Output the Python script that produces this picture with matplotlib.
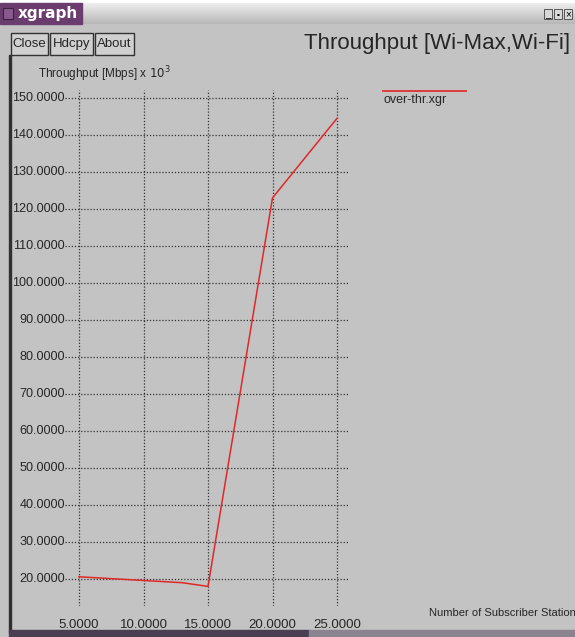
import numpy as np
import matplotlib.pyplot as plt
from matplotlib.patches import Rectangle

plt.rcParams['font.family'] = ['Liberation Sans', 'DejaVu Sans']

# throughput samples (Mbps x 10^3) vs number of subscriber stations
stations = [5, 10, 13, 15, 20, 25]
throughput = [20.6, 19.6, 19.0, 18.0, 123.0, 144.5]

x_ticks = [5, 10, 15, 20, 25]
y_ticks = [20, 30, 40, 50, 60, 70, 80, 90, 100, 110, 120, 130, 140, 150]

W, H = 575, 637
BG = '#c3c3c3'
TXT = '#262626'

fig = plt.figure(figsize=(W / 100, H / 100), dpi=100)
fig.patch.set_facecolor('white')

# window chrome drawn in pixel space
ui = fig.add_axes([0, 0, 1, 1])
ui.set_xlim(0, W)
ui.set_ylim(H, 0)
ui.axis('off')

ui.add_patch(Rectangle((0, 22), W, H - 22, color=BG, zorder=0))
# title bar: purple tab on the left, grey gradient for the rest
grad = np.linspace(0.93, 0.72, 32).reshape(-1, 1)
ui.imshow(grad, cmap='gray', vmin=0, vmax=1, extent=(0, W, 24, 3),
          aspect='auto', zorder=1)
ui.add_patch(Rectangle((0, 3), 82, 21, color='#6a3d6e', zorder=2))
ui.add_patch(Rectangle((3, 8), 10, 11, facecolor='#8a5a8e',
                       edgecolor='#3d2240', lw=0.8, zorder=3))
ui.text(18, 13.5, 'xgraph', color='white', fontsize=11, fontweight='bold',
        family='DejaVu Sans', va='center', ha='left', zorder=4)
for bx in (548, 558, 568):
    ui.add_patch(Rectangle((bx - 4, 9), 8, 10, facecolor='#d8d8d8',
                           edgecolor='#555555', lw=0.7, zorder=3))
ui.text(548, 14.5, '_', fontsize=7, ha='center', va='center', zorder=4)
ui.text(558, 14.5, '▪', fontsize=6, ha='center', va='center', zorder=4)
ui.text(568, 14.5, '×', fontsize=7, ha='center', va='center', zorder=4)

# buttons
for label, x0, x1 in [('Close', 11, 48), ('Hdcpy', 50, 93), ('About', 95, 134)]:
    ui.add_patch(Rectangle((x0, 33), x1 - x0, 22, facecolor='#d0d0d0',
                           edgecolor='#333333', lw=1.0, zorder=3))
    ui.text((x0 + x1) / 2, 44, label, fontsize=9.5, ha='center',
            va='center', color=TXT, zorder=4)

# window border
ui.add_patch(Rectangle((9, 55), 2, 577, color='#303030', zorder=3))
ui.add_patch(Rectangle((9, 630), 300, 7, color='#4a3e52', zorder=3))
ui.add_patch(Rectangle((309, 630), W - 309, 7, color='#8a8490', zorder=3))

ui.text(570, 44, 'Throughput [Wi-Max,Wi-Fi]', fontsize=16, ha='right',
        va='center', color=TXT, zorder=4)
ui.text(38, 74, r'Throughput [Mbps] x $10^3$', fontsize=8.5, ha='left',
        va='center', color=TXT, zorder=4)
ui.text(429, 613, 'Number of Subscriber Station', fontsize=8, ha='left',
        va='center', color=TXT, zorder=4)

# legend entry
ui.plot([383, 466], [91, 91], color='#e03030', lw=1.3, zorder=4)
ui.text(383, 100, 'over-thr.xgr', fontsize=9, ha='left', va='center',
        color=TXT, zorder=4)

# data area: x=5 at px 79, x=25 at px 337; y=150 at px 98, y=20 at px 579
px_x = (337 - 79) / 20.0
px_y = (579 - 98) / 130.0
left_px, right_px, top_px, bot_px = 65, 348, 90, 606
ax = fig.add_axes([left_px / W, 1 - bot_px / H,
                   (right_px - left_px) / W, (bot_px - top_px) / H])
ax.set_xlim(5 - (79 - left_px) / px_x, 25 + (right_px - 337) / px_x)
ax.set_ylim(20 - (bot_px - 579) / px_y, 150 + (98 - top_px) / px_y)
ax.patch.set_alpha(0)
for s in ax.spines.values():
    s.set_visible(False)
ax.set_xticks([])
ax.set_yticks([])

for yv in y_ticks:
    ax.axhline(yv, color='#333333', lw=0.9, ls=(0, (1, 1.5)), zorder=1)
for xv in x_ticks:
    ax.axvline(xv, color='#333333', lw=0.9, ls=(0, (1, 1.5)), zorder=1)

ax.plot(stations, throughput, color='#e02828', lw=1.1, zorder=3)

# tick labels, placed in data coords
for yv in y_ticks:
    ax.text(5 - (79 - 65) / px_x, yv, f'{yv:.4f}', fontsize=9.1,
            ha='right', va='center', color=TXT, clip_on=False)
for xv in x_ticks:
    ax.text(xv, 20 - (625 - 579) / px_y, f'{xv:.4f}', fontsize=9.5,
            ha='center', va='center', color=TXT, clip_on=False)

fig.savefig('out.png', dpi=100, facecolor=fig.get_facecolor())
